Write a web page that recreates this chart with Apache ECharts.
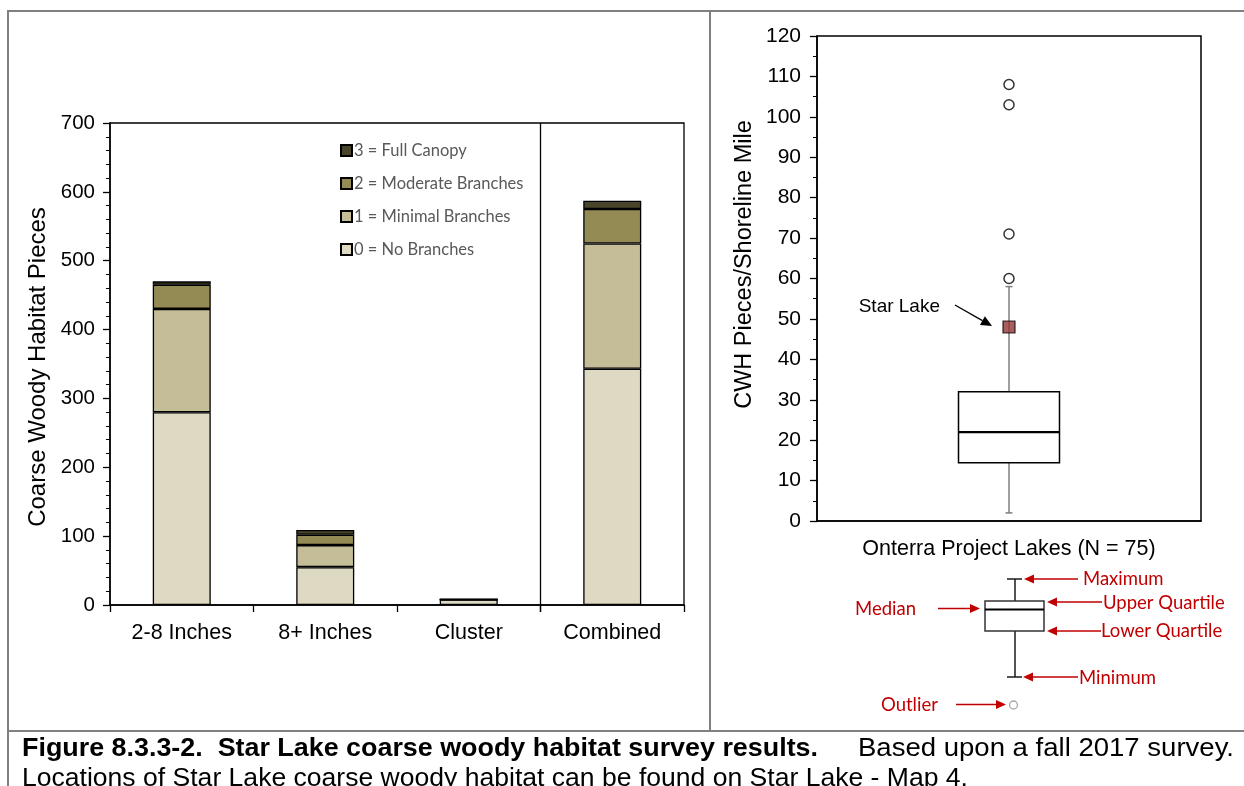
<!DOCTYPE html>
<html>
<head>
<meta charset="utf-8">
<script src="https://cdn.jsdelivr.net/npm/echarts@6/dist/echarts.min.js"></script>
<style>
  html, body { margin: 0; padding: 0; background: #fff; }
  #chart { width: 1244px; height: 786px; }
</style>
</head>
<body>
<div id="chart"></div>
<script>
// Coarse woody habitat pieces by size class, split by branching category
const sizeClasses = ['2-8 Inches', '8+ Inches', 'Cluster', 'Combined'];
const noBranches = [280, 55, 8, 343];
const minimalBranches = [150, 32, 0, 182];
const moderateBranches = [35, 15, 0, 50];
const fullCanopy = [5, 7, 0, 12];
const branchNames = ['0 = No Branches', '1 = Minimal Branches', '2 = Moderate Branches', '3 = Full Canopy'];
const branchColors = ['#DDD9C3', '#C4BD97', '#948A54', '#4A452A'];

// CWH pieces per shoreline mile across the project lakes
const lakeGroup = ['Onterra Project Lakes (N = 75)'];
const boxStats = [2, 14.4, 22, 32, 58];      // min, lower quartile, median, upper quartile, max
const outlierValues = [60, 71, 103, 108];
const starLakeValue = 48;

const SANS = "'Liberation Sans', Arial, sans-serif";
const CALIBRI_LIKE = "Lato, 'Open Sans', sans-serif";

const chart = echarts.init(document.getElementById('chart'), null, { renderer: 'canvas' });

const branchSeries = [noBranches, minimalBranches, moderateBranches, fullCanopy].map((vals, i) => ({
  name: branchNames[i],
  type: 'bar',
  stack: 'cwh',
  xAxisIndex: 0,
  yAxisIndex: 0,
  barWidth: 58,
  data: vals,
  itemStyle: { color: branchColors[i], borderColor: '#000', borderWidth: 1.3 },
  emphasis: { disabled: true }
}));

function renderBox(params, api) {
  const cat = api.value(0);
  const cx = api.coord([cat, 0])[0];
  const bw = api.size([1, 0])[0] * 0.263;
  const yv = k => api.coord([cat, api.value(k)])[1];
  const yMin = yv(1), yQ1 = yv(2), yMed = yv(3), yQ3 = yv(4), yMax = yv(5);
  const whisker = { stroke: '#7f7f7f', lineWidth: 1.5 };
  return {
    type: 'group',
    children: [
      { type: 'line', shape: { x1: cx, y1: yQ3, x2: cx, y2: yMax }, style: whisker },
      { type: 'line', shape: { x1: cx, y1: yQ1, x2: cx, y2: yMin }, style: whisker },
      { type: 'line', shape: { x1: cx - 3.5, y1: yMax, x2: cx + 3.5, y2: yMax }, style: whisker },
      { type: 'line', shape: { x1: cx - 3.5, y1: yMin, x2: cx + 3.5, y2: yMin }, style: whisker },
      { type: 'rect', shape: { x: cx - bw / 2, y: yQ3, width: bw, height: yQ1 - yQ3 },
        style: { fill: '#fff', stroke: '#000', lineWidth: 1.5 } },
      { type: 'line', shape: { x1: cx - bw / 2, y1: yMed, x2: cx + bw / 2, y2: yMed },
        style: { stroke: '#000', lineWidth: 2.2 } }
    ]
  };
}

const option = {
  animation: false,
  backgroundColor: '#fff',
  textStyle: { fontFamily: SANS },
  legend: {
    data: branchNames.slice().reverse(),
    orient: 'vertical',
    left: 335,
    top: 137,
    itemWidth: 11,
    itemHeight: 11,
    itemGap: 16,
    icon: 'rect',
    selectedMode: false,
    textStyle: { fontFamily: CALIBRI_LIKE, fontSize: 16.5, color: '#595959', padding: [0, 0, 0, -3] }
  },
  grid: [
    { left: 110, top: 123, right: 560, bottom: 181, show: true, borderColor: '#000', borderWidth: 1.3, containLabel: false },
    { left: 817, top: 36, right: 43, bottom: 265, show: true, borderColor: '#000', borderWidth: 1.5, containLabel: false }
  ],
  xAxis: [
    {
      type: 'category', gridIndex: 0, data: sizeClasses,
      axisLine: { lineStyle: { color: '#000', width: 1.5 } },
      axisTick: { show: true, alignWithLabel: false, length: 7, lineStyle: { color: '#000', width: 1.3 } },
      axisLabel: { color: '#000', fontSize: 21.5, margin: 17, fontFamily: SANS },
      splitLine: { show: false }
    },
    {
      type: 'category', gridIndex: 1, data: lakeGroup,
      axisLine: { lineStyle: { color: '#000', width: 1.5 } },
      axisTick: { show: false },
      axisLabel: { show: false },
      name: lakeGroup[0], nameLocation: 'middle', nameGap: 17,
      nameTextStyle: { color: '#000', fontSize: 21.5, fontFamily: SANS }
    }
  ],
  yAxis: [
    {
      type: 'value', gridIndex: 0, min: 0, max: 700, interval: 100,
      axisLine: { show: true, lineStyle: { color: '#000', width: 1.5 } },
      axisTick: { show: true, length: 7, lineStyle: { color: '#000', width: 1.3 } },
      minorTick: { show: true, splitNumber: 5, length: 4, lineStyle: { color: '#000', width: 1 } },
      axisLabel: { color: '#000', fontSize: 20.5, margin: 15, fontFamily: SANS },
      splitLine: { show: false },
      name: 'Coarse Woody Habitat Pieces', nameLocation: 'middle', nameGap: 60,
      nameTextStyle: { color: '#000', fontSize: 24, fontFamily: SANS, padding: [0, 6, 0, 0] }
    },
    {
      type: 'value', gridIndex: 1, min: 0, max: 120, interval: 10,
      axisLine: { show: true, lineStyle: { color: '#000', width: 1.5 } },
      axisTick: { show: true, length: 7, lineStyle: { color: '#000', width: 1.3 } },
      minorTick: { show: true, splitNumber: 2, length: 4, lineStyle: { color: '#000', width: 1 } },
      axisLabel: { color: '#000', fontSize: 21, margin: 16, fontFamily: SANS },
      splitLine: { show: false },
      name: 'CWH Pieces/Shoreline Mile', nameLocation: 'middle', nameGap: 60,
      nameTextStyle: { color: '#000', fontSize: 23.5, fontFamily: SANS, padding: [0, 0, 0, 28] }
    }
  ],
  series: [
    ...branchSeries,
    {
      name: 'Project lakes', type: 'custom', xAxisIndex: 1, yAxisIndex: 1,
      data: [[0, ...boxStats]],
      encode: { x: 0, y: [1, 2, 3, 4, 5] },
      renderItem: renderBox, z: 2, silent: true
    },
    {
      name: 'Outliers', type: 'scatter', xAxisIndex: 1, yAxisIndex: 1,
      data: outlierValues.map(v => [0, v]),
      symbol: 'circle', symbolSize: 10, z: 3, silent: true,
      itemStyle: { color: '#fff', borderColor: '#000', borderWidth: 1.5 }
    },
    {
      name: 'Star Lake', type: 'scatter', xAxisIndex: 1, yAxisIndex: 1,
      data: [[0, starLakeValue]],
      symbol: 'rect', symbolSize: 12, z: 4, silent: true,
      itemStyle: { color: '#943634', borderColor: '#000', borderWidth: 1.2 }
    }
  ]
};

chart.setOption(option);

// ---- annotations, frame, caption and the box-plot key ----
const measureCtx = document.createElement('canvas').getContext('2d');
function textWidth(text, font) { measureCtx.font = font; return measureCtx.measureText(text).width; }

const RED = '#C00000';
function arrowH(x1, y, x2, color) {
  const dir = x2 > x1 ? 1 : -1;
  const head = 10;
  return [
    { type: 'line', shape: { x1: x1, y1: y, x2: x2 - dir * head, y2: y }, style: { stroke: color, lineWidth: 1.5 }, silent: true },
    { type: 'polygon', shape: { points: [[x2, y], [x2 - dir * head, y - 4.5], [x2 - dir * head, y + 4.5]] }, style: { fill: color }, silent: true }
  ];
}
function arrowTo(x1, y1, x2, y2, color) {
  const dx = x2 - x1, dy = y2 - y1, len = Math.hypot(dx, dy);
  const ux = dx / len, uy = dy / len, head = 11, hw = 5;
  const bx = x2 - ux * head, by = y2 - uy * head;
  return [
    { type: 'line', shape: { x1: x1, y1: y1, x2: bx, y2: by }, style: { stroke: color, lineWidth: 1.3 }, silent: true },
    { type: 'polygon', shape: { points: [[x2, y2], [bx - uy * hw, by + ux * hw], [bx + uy * hw, by - ux * hw]] }, style: { fill: color }, silent: true }
  ];
}
function label(text, x, y, color, font, align) {
  return { type: 'text', x: x, y: y, silent: true,
    style: { text: text, fill: color, font: font, align: align || 'left', verticalAlign: 'middle' } };
}

const graphics = [];

// panel frame
const frame = { stroke: '#808080', lineWidth: 2 };
graphics.push(
  { type: 'line', shape: { x1: 8, y1: 11, x2: 1244, y2: 11 }, style: frame, silent: true },
  { type: 'line', shape: { x1: 8, y1: 10, x2: 8, y2: 786 }, style: frame, silent: true },
  { type: 'line', shape: { x1: 710, y1: 11, x2: 710, y2: 731 }, style: frame, silent: true },
  { type: 'line', shape: { x1: 8, y1: 731, x2: 1244, y2: 731 }, style: frame, silent: true }
);

// divider between the individual size classes and the combined total
const pCluster = chart.convertToPixel({ xAxisIndex: 0 }, 2);
const pCombined = chart.convertToPixel({ xAxisIndex: 0 }, 3);
const yTop = chart.convertToPixel({ yAxisIndex: 0 }, 700);
const yBase = chart.convertToPixel({ yAxisIndex: 0 }, 0);
const xDiv = (pCluster + pCombined) / 2;
graphics.push({ type: 'line', shape: { x1: xDiv, y1: yTop, x2: xDiv, y2: yBase + 7 }, style: { stroke: '#000', lineWidth: 1.3 }, silent: true });

// Star Lake callout
const ps = chart.convertToPixel({ gridIndex: 1 }, [0, starLakeValue]);
graphics.push(label('Star Lake', ps[0] - 69, ps[1] - 20, '#000', '19px ' + SANS, 'right'));
graphics.push(...arrowTo(ps[0] - 54, ps[1] - 22, ps[0] - 17, ps[1] - 1, '#000'));

// box-plot key
const keyStroke = { stroke: '#1a1a1a', lineWidth: 1.5 };
graphics.push(
  { type: 'line', shape: { x1: 1015, y1: 579, x2: 1015, y2: 601 }, style: keyStroke, silent: true },
  { type: 'line', shape: { x1: 1015, y1: 631, x2: 1015, y2: 677 }, style: keyStroke, silent: true },
  { type: 'line', shape: { x1: 1007, y1: 579, x2: 1022, y2: 579 }, style: keyStroke, silent: true },
  { type: 'line', shape: { x1: 1007, y1: 677, x2: 1022, y2: 677 }, style: keyStroke, silent: true },
  { type: 'rect', shape: { x: 985, y: 601, width: 59, height: 30 }, style: { fill: '#fff', stroke: '#333', lineWidth: 1.5 }, silent: true },
  { type: 'line', shape: { x1: 985, y1: 609.5, x2: 1044, y2: 609.5 }, style: { stroke: '#000', lineWidth: 2 }, silent: true },
  { type: 'circle', shape: { cx: 1013.5, cy: 705, r: 4 }, style: { fill: '#fff', stroke: '#a6a6a6', lineWidth: 1.3 }, silent: true }
);
const keyFont = '18.5px ' + CALIBRI_LIKE;
graphics.push(...arrowH(1078, 579, 1024, RED), label('Maximum', 1083, 579, RED, keyFont));
graphics.push(...arrowH(1102, 602, 1047, RED), label('Upper Quartile', 1103, 603, RED, keyFont));
graphics.push(...arrowH(1101, 631, 1047, RED), label('Lower Quartile', 1101, 631, RED, keyFont));
graphics.push(...arrowH(1078, 677, 1023, RED), label('Minimum', 1079, 678, RED, keyFont));
graphics.push(...arrowH(938, 608.5, 980, RED), label('Median', 855, 609, RED, keyFont));
graphics.push(...arrowH(956, 704.5, 1006, RED), label('Outlier', 881, 705, RED, keyFont));

// figure caption, squeezed to the column width
function fitted(text, x, y, font, targetW, align) {
  const s = targetW / textWidth(text, font);
  return { type: 'text', x: x, y: y, scaleX: s, silent: true,
    style: { text: text, fill: '#000', font: font, align: align || 'left', verticalAlign: 'middle' } };
}
const capBold = 'bold 25px ' + SANS;
const capReg = '25px ' + SANS;
graphics.push(
  fitted('Figure 8.3.3-2.  Star Lake coarse woody habitat survey results.', 22, 749, capBold, 796, 'left'),
  fitted('Based upon a fall 2017 survey.', 1234, 749, capReg, 376, 'right'),
  fitted('Locations of Star Lake coarse woody habitat can be found on Star Lake - Map 4.', 22, 779, capReg, 946, 'left')
);

chart.setOption({ graphic: graphics });
</script>
</body>
</html>
